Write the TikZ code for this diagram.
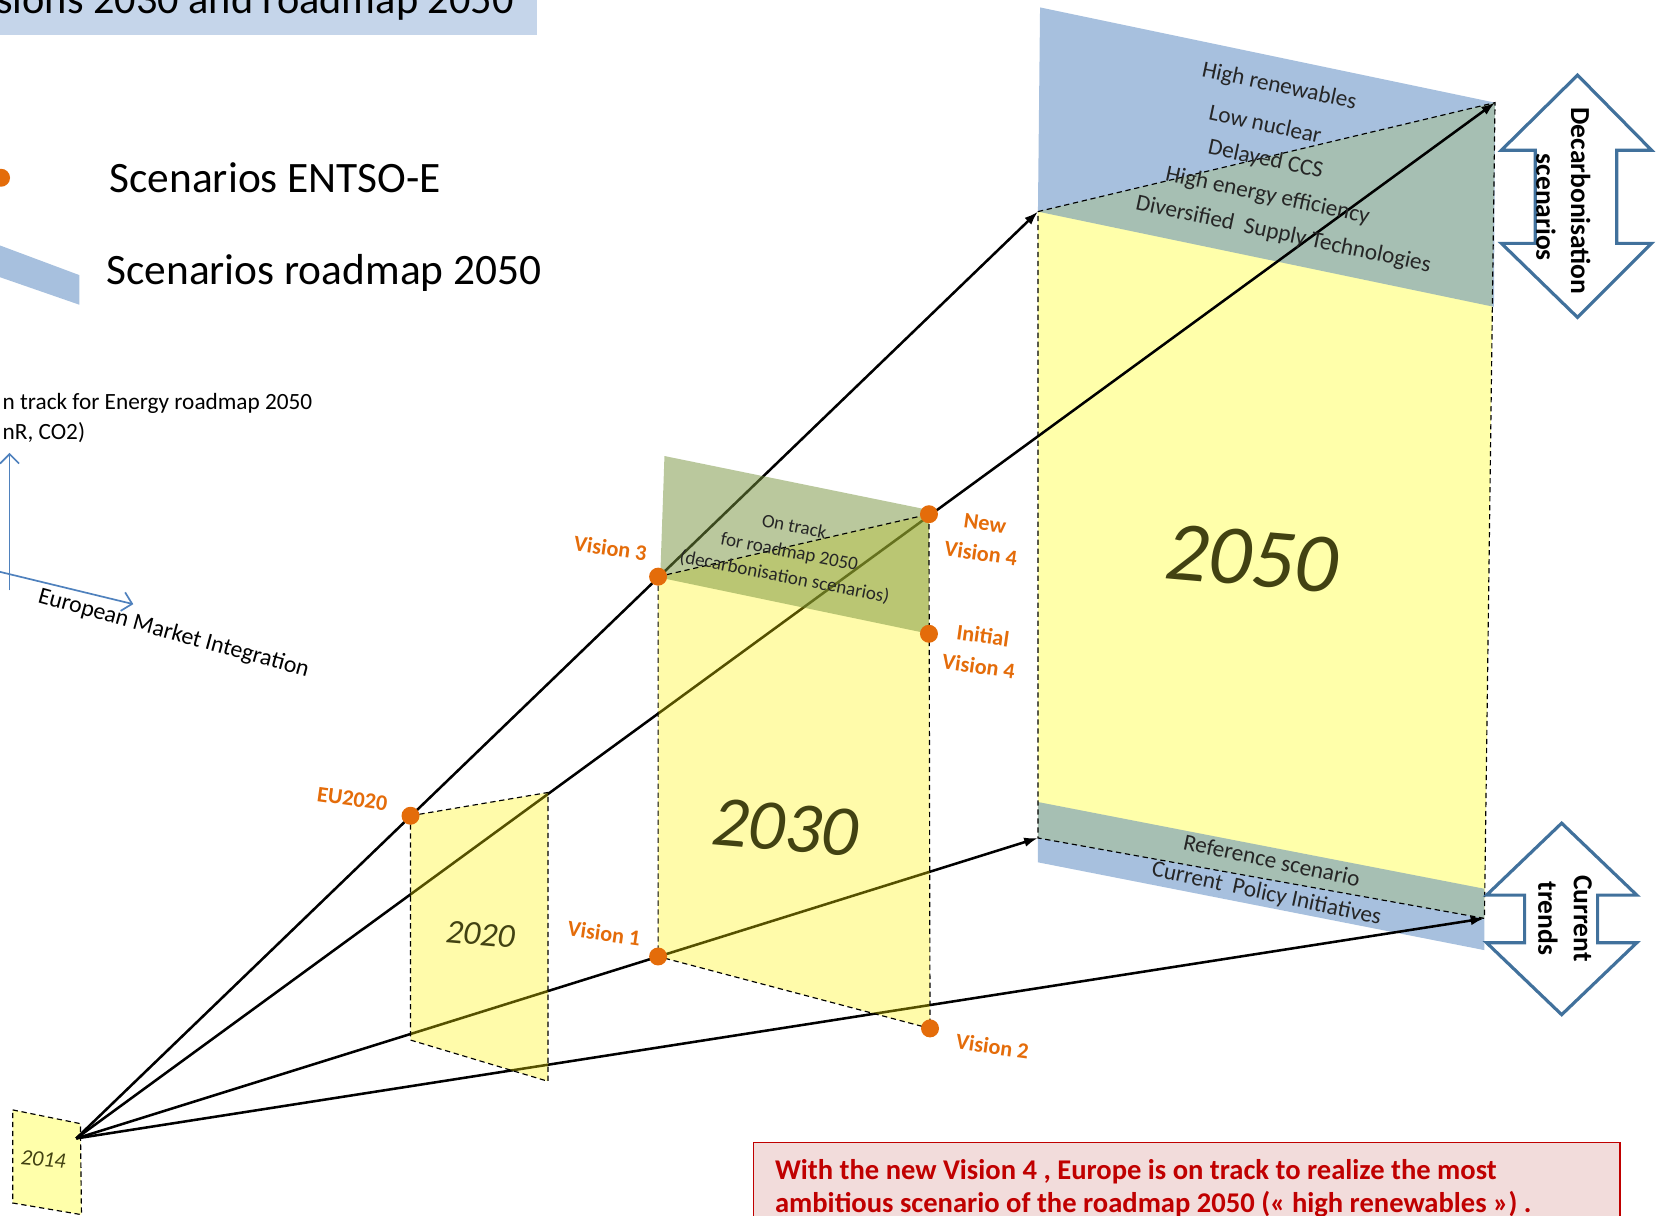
\documentclass[tikz,border=0pt]{standalone}
\usepackage{fontspec}
\setmainfont{Carlito}
\usetikzlibrary{arrows.meta}

\definecolor{panelyellow}{RGB}{255,255,170}
\definecolor{bandblue}{RGB}{79,129,189}
\definecolor{bandgreen}{RGB}{118,146,60}
\definecolor{scenorange}{RGB}{228,108,10}
\definecolor{yearolive}{RGB}{66,66,18}
\definecolor{darktext}{RGB}{38,38,38}
\definecolor{arrowblue}{RGB}{65,113,156}
\definecolor{axisblue}{RGB}{79,129,189}
\definecolor{titleblue}{RGB}{197,213,234}
\definecolor{notepink}{RGB}{242,220,219}
\definecolor{notered}{RGB}{192,0,0}

\begin{document}
\begin{tikzpicture}[x=1pt,y=-1pt,
  panelfill/.style={fill=panelyellow},
  paneltint/.style={fill=yellow, fill opacity=0.333},
  panelborder/.style={draw=black, line width=1.1pt, dash pattern=on 5pt off 3.5pt},
  blueband/.style={fill=bandblue, fill opacity=0.5},
  greenband/.style={fill=bandgreen, fill opacity=0.5},
  ray/.style={line width=2.4pt, -{Latex[length=13pt,width=9pt]}},
  axisarrow/.style={draw=axisblue, line width=1.6pt, -{Straight Barb[length=9pt,width=18pt]}},
  scendot/.style={circle, fill=scenorange, inner sep=0pt, minimum size=17pt},
  vlabel/.style={text=scenorange, font=\bfseries\fontsize{21}{29}\selectfont, rotate=-8, align=center},
  yeartext/.style={text=yearolive, font=\itshape\fontsize{#1}{#1}\selectfont, rotate=-5},
  bandtext/.style={text=darktext, font=\fontsize{22}{26}\selectfont, rotate=-12},
  legendtext/.style={font=\fontsize{41}{48}\selectfont, anchor=west},
  blockarrow/.style={draw=arrowblue, line width=3pt, fill=white, line join=miter},
  blocktext/.style={font=\bfseries\fontsize{26}{30}\selectfont, rotate=-90},
  notetext/.style={text=notered, font=\bfseries\fontsize{27}{31}\selectfont, anchor=base west}
]
\useasboundingbox (0,0) rectangle (1568,1149);
\clip (0,0) rectangle (1568,1149);

% ---------- title bar and legend ----------
\fill[titleblue] (0,0) rectangle (508,33);
\node[font=\fontsize{40}{48}\selectfont, anchor=base east] (title) at (489,13) {sions 2030 and roadmap 2050};

\node[scendot] (legdot) at (1,168) {};
\node[legendtext] (legentso) at (100,168) {Scenarios ENTSO-E};
\fill[blueband] (0,232) -- (75,260) -- (75,288) -- (0,262) -- cycle;
\node[legendtext] (legroad) at (97,258) {Scenarios roadmap 2050};

% ---------- axes sketch ----------
\node[font=\fontsize{22}{26}\selectfont, anchor=base west] (axtitle1) at (-1,387) {n track for Energy roadmap 2050};
\node[font=\fontsize{22}{26}\selectfont, anchor=base west] (axtitle2) at (-1,415) {nR, CO2)};
\coordinate (axy0) at (9,558);
\coordinate (axy1) at (9,428);
\coordinate (axx0) at (-2,540);
\coordinate (axx1) at (126,571);
\draw[axisarrow] (axy0) -- (axy1);
\draw[axisarrow] (axx0) -- (axx1);
\node[font=\fontsize{22.5}{26}\selectfont, rotate=-15.5] (axlabel) at (164,599) {European Market Integration};

% ---------- key points ----------
\coordinate (O) at (72,1076);
% 2014
\coordinate (A1) at (12,1049); \coordinate (A2) at (76,1062);
\coordinate (A3) at (77,1148); \coordinate (A4) at (12,1137);
% 2020
\coordinate (B1) at (388,771); \coordinate (B2) at (518,749);
\coordinate (B3) at (518,1022); \coordinate (B4) at (388,983);
% 2030
\coordinate (C1) at (622,545); \coordinate (C2) at (878,486);
\coordinate (C3) at (879,972); \coordinate (C4) at (622,904);
\coordinate (C5) at (878,599);
\coordinate (G1) at (628,431); \coordinate (G2) at (878,482);
\coordinate (G4) at (624,546);
% 2050
\coordinate (D1) at (981,200); \coordinate (D2) at (1413,97);
\coordinate (D3) at (1403,868); \coordinate (D4) at (981,792);

% ---------- opaque panels ----------
\fill[panelfill] (A1) -- (A2) -- (A3) -- (A4) -- cycle;
\fill[panelfill] (D1) -- (D2) -- (D3) -- (D4) -- cycle;
\fill[blueband] (983,7) -- (D2) -- (1412,290) -- (D1) -- cycle;
\fill[blueband] (981,758) -- (1403,840) -- (1403,898) -- (981,815) -- cycle;

% ---------- scenario paths ----------
\draw[ray] (O) -- (D1);
\draw[ray] (O) -- (D2);
\draw[ray] (O) -- (D4);
\draw[ray] (O) -- (D3);

% ---------- translucent panels ----------
\fill[paneltint] (B1) -- (B2) -- (B3) -- (B4) -- cycle;
\fill[paneltint] (C1) -- (C2) -- (C3) -- (C4) -- cycle;
\fill[greenband] (G1) -- (G2) -- (C5) -- (G4) -- cycle;

% ---------- dashed outlines ----------
\draw[panelborder] (A1) -- (A2) -- (A3) -- (A4) -- cycle;
\draw[panelborder] (B1) -- (B2) -- (B3) -- (B4) -- cycle;
\draw[panelborder] (C1) -- (C2) -- (C3) -- (C4) -- cycle;
\draw[panelborder] (D1) -- (D2) -- (D3) -- (D4) -- cycle;

% ---------- years ----------
\node[yeartext=21] (y2014) at (41,1096) {2014};
\node[yeartext=32] (y2020) at (454,883) {2020};
\node[yeartext=68] (y2030) at (742,782) {2030};
\node[yeartext=80] (y2050) at (1183,528) {2050};

% ---------- ENTSO-E visions ----------
\node[scendot] (eu2020) at (B1) {};
\node[scendot] (vis3) at (C1) {};
\node[scendot] (newvis4) at (C2) {};
\node[scendot] (initvis4) at (C5) {};
\node[scendot] (vis1) at (C4) {};
\node[scendot] (vis2) at (C3) {};

\node[vlabel] (leu2020) at (333,755) {EU2020};
\node[vlabel] (lvis3) at (577,518) {Vision 3};
\node[vlabel] (lnewvis4) at (929,509) {New\\Vision 4};
\node[vlabel] (linitvis4) at (927,615) {Initial\\Vision 4};
\node[vlabel] (lvis1) at (571,882) {Vision 1};
\node[vlabel] (lvis2) at (938,989) {Vision 2};

\node[text=darktext, font=\fontsize{18}{24}\selectfont, rotate=-11, align=center] (ontrack) at (746,522)
  {On track\\for roadmap 2050\\(decarbonisation scenarios)};

% ---------- roadmap 2050 scenarios ----------
\node[bandtext] (hren) at (1209,82) {High renewables};
\node[bandtext] (lnuc) at (1196,117) {Low nuclear};
\node[bandtext] (dccs) at (1196,151) {Delayed CCS};
\node[bandtext] (heff) at (1198,185) {High energy efficiency};
\node[bandtext] (dsup) at (1213,222) {Diversified\ \ Supply Technologies};
\node[bandtext] (refs) at (1202,813) {Reference scenario};
\node[bandtext] (cpol) at (1197,845) {Current\ \ Policy Initiatives};

% ---------- double arrows ----------
\draw[blockarrow] (1491,71) -- (1561,142) -- (1528,142) -- (1528,230) -- (1561,230)
  -- (1491,300) -- (1419,230) -- (1451,230) -- (1451,142) -- (1419,142) -- cycle;
\node[blocktext] (decarb) at (1494,190) {Decarbonisation};
\node[blocktext] (decarbsc) at (1461,196) {scenarios};

\draw[blockarrow] (1476,778) -- (1547,846) -- (1510,846) -- (1510,891) -- (1547,891)
  -- (1476,959) -- (1405,891) -- (1441,891) -- (1441,846) -- (1405,846) -- cycle;
\node[blocktext] (curr) at (1496,868) {Current};
\node[blocktext] (trends) at (1463,868) {trends};

% ---------- conclusion box ----------
\draw[fill=notepink, draw=notered, line width=1.2pt] (712,1080) rectangle (1531,1170);
\node[notetext] (note1) at (729,1115) {With the new Vision 4 , Europe is on track to realize the most};
\node[notetext] (note2) at (729,1146) {ambitious scenario of the roadmap 2050 (« high renewables ») .};
\end{tikzpicture}
\end{document}
